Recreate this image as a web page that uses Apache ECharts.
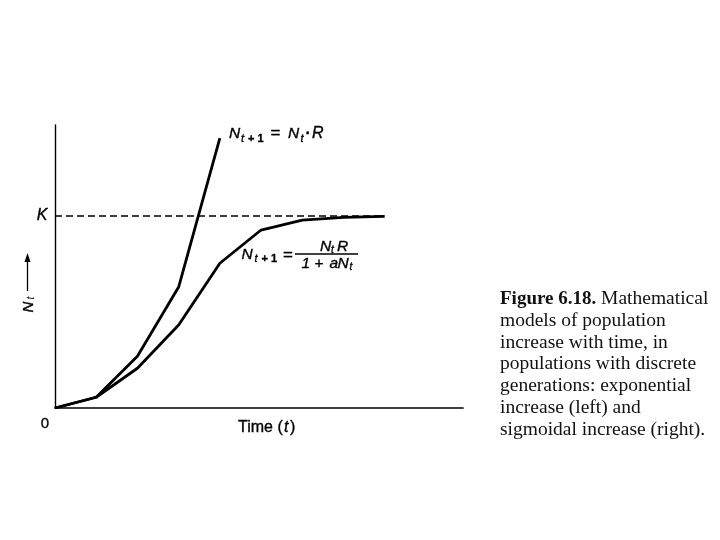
<!DOCTYPE html>
<html><head><meta charset="utf-8">
<script src="https://cdn.jsdelivr.net/npm/echarts/dist/echarts.min.js"></script>
<style>html,body{margin:0;padding:0;background:#fff}#c{width:720px;height:540px}</style>
</head><body><div id="c"></div>
<script>
// ---- data ----
const generations = [0, 1, 2, 3, 4, 5, 6, 7, 8];
const exponentialN = [0, 5.6, 27, 63, 140.5];          // N(t+1) = N(t)·R
const sigmoidN = [0, 5.6, 20.7, 43.2, 75.4, 92.7, 97.9, 99.3, 99.8]; // N(t+1) = N(t)R/(1+aN(t))
const carryingK = 100;
const xMax = 9.9;
const yMax = 147.4;
const captionLines = [
  '{b|Figure 6.18.} Mathematical',
  'models of population',
  'increase with time, in',
  'populations with discrete',
  'generations: exponential',
  'increase (left) and',
  'sigmoidal increase (right).'
];

const INK = '#000';
const SANS = '"Liberation Sans", Arial, sans-serif';
// one text piece placed on a baseline
function piece(t, x, base, size, opt){
  opt = opt || {};
  const f = (opt.it ? 'italic ' : '') + (opt.bold ? 'bold ' : '') + size + 'px ' + SANS;
  return {type:'text', x:x, y: base - 0.32 * size, silent:true,
    style:{text:t, font:f, fill:INK, stroke:INK, lineWidth:0.35, textAlign:'left', textVerticalAlign:'middle'}};
}

const chart = echarts.init(document.getElementById('c'), null, {renderer:'canvas'});

const expData = exponentialN.map((v,i)=>[generations[i], v]);
const sigData = sigmoidN.map((v,i)=>[generations[i], v]);
const kData = [[generations[0], carryingK], [generations[generations.length-1], carryingK]];

const M = 15.5, S = 11;
const graphics = [
  // N_{t+1} = N_t · R
  piece('N', 229, 139, M, {it:true}),
  piece('t', 241, 142, S, {it:true}),
  piece('+', 248, 142, S, {bold:true}),
  piece('1', 257.5, 142, S, {bold:true}),
  piece('=', 270.5, 139, 17),
  piece('N', 288, 139, M, {it:true}),
  piece('t', 300.5, 142, S, {it:true}),
  piece('·', 305.5, 139, M, {bold:true}),
  piece('R', 312, 139, M + 0.5, {it:true}),
  // N_{t+1} = N_t R / (1 + aN_t)
  piece('N', 241.5, 259.5, M, {it:true}),
  piece('t', 254.5, 262.5, S, {it:true}),
  piece('+', 261.5, 262.5, S, {bold:true}),
  piece('1', 271, 262.5, S, {bold:true}),
  piece('=', 283, 260.5, 17),
  piece('N', 320, 251.5, M, {it:true}),
  piece('t', 331, 253, 10, {it:true}),
  piece('R', 337, 251.5, M, {it:true}),
  piece('1', 301.5, 268.5, M, {it:true}),
  piece('+', 314.5, 268.5, M),
  piece('a', 329.5, 268.5, M, {it:true}),
  piece('N', 337.5, 268.5, M, {it:true}),
  piece('t', 349.5, 270.5, 10, {it:true}),
  {type:'line', silent:true, shape:{x1:295, y1:254, x2:358, y2:254}, style:{stroke:INK, lineWidth:1.4}},
  // K label, 0 label, Time (t)
  {type:'text', x:42, y:216, silent:true, style:{text:'K', font:'italic 16px ' + SANS, fill:INK, stroke:INK, lineWidth:0.35, textAlign:'center', textVerticalAlign:'middle'}},
  {type:'text', x:45, y:424, silent:true, style:{text:'0', font:'15px ' + SANS, fill:INK, stroke:INK, lineWidth:0.35, textAlign:'center', textVerticalAlign:'middle'}},
  piece('Time (', 238, 432.5, 16),
  piece('t', 284, 432.5, 16, {it:true}),
  piece(')', 290, 432.5, 16),
  // Y axis label N_t with arrow (rotated)
  {type:'group', x:28.5, y:303, rotation:Math.PI/2, silent:true, children:[
    {type:'text', x:-4, y:0, style:{text:'N', font:'italic 15px ' + SANS, fill:INK, stroke:INK, lineWidth:0.35, textAlign:'center', textVerticalAlign:'middle'}},
    {type:'text', x:5, y:3, style:{text:'t', font:'italic 10px ' + SANS, fill:INK, textAlign:'center', textVerticalAlign:'middle'}}
  ]},
  {type:'line', silent:true, shape:{x1:27.5, y1:291, x2:27.5, y2:259}, style:{stroke:INK, lineWidth:1.3}},
  {type:'polygon', silent:true, shape:{points:[[27.5,253],[24.5,262],[30.5,262]]}, style:{fill:INK}},
  // caption
  {type:'text', x:500, y:288, silent:true, style:{
    text: captionLines.join('\n'), font:'19.5px "Liberation Serif", "Times New Roman", serif', fill:'#111',
    lineHeight:21.8, textAlign:'left', textVerticalAlign:'top',
    rich:{b:{fontWeight:'bold', fontSize:19, fontFamily:'"Liberation Serif", serif', lineHeight:21.8}}
  }}
];

chart.setOption({
  backgroundColor:'#fff',
  animation:false,
  grid:{left:55, right:257, top:125, bottom:132, containLabel:false},
  xAxis:{type:'value', min:0, max:xMax, axisLine:{show:true, onZero:false, lineStyle:{color:INK, width:1.7}},
    axisTick:{show:false}, axisLabel:{show:false}, splitLine:{show:false}},
  yAxis:{type:'value', min:0, max:yMax, axisLine:{show:true, onZero:false, lineStyle:{color:INK, width:1.4}},
    axisTick:{show:false}, axisLabel:{show:false}, splitLine:{show:false}},
  series:[
    {type:'line', data:kData, symbol:'none', lineStyle:{color:INK, width:1.5, type:[7,4]}, z:1},
    {type:'line', data:sigData, symbol:'none', lineStyle:{color:INK, width:2.8, join:'round'}, z:2},
    {type:'line', data:expData, symbol:'none', lineStyle:{color:INK, width:2.8, join:'round'}, z:3}
  ],
  graphic: graphics
});
</script></body></html>
